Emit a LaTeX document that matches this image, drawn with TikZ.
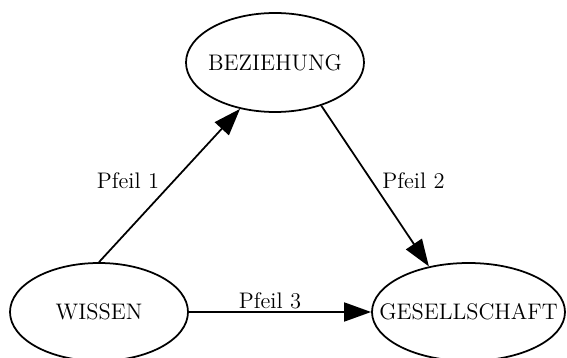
\documentclass[tikz,border=0pt]{standalone}
\usepackage{tikz}
\usetikzlibrary{arrows.meta,shapes.geometric}

\begin{document}
\begin{tikzpicture}[
zustand/.style={ellipse,draw,line width=1pt,inner ysep=0pt,inner xsep=-0.2cm,minimum width=3.56cm,minimum height=1.96cm,font=\fontsize{12.8}{15}\selectfont},
pfeil/.style={line width=1pt,-{Triangle[length=5.4mm,width=3.8mm]}},
beschriftung/.style={font=\fontsize{12.8}{15}\selectfont,inner sep=0pt}
]
\useasboundingbox[fill=white] (0,0) rectangle (11.34,7.16);
\node[zustand,minimum height=1.98cm] (beziehung) at (5.5,5.91) {BEZIEHUNG};
\node[zustand] (wissen) at (1.98,0.92) {WISSEN};
\node[zustand,minimum width=3.86cm,inner xsep=-0.47cm] (gesellschaft) at (9.37,0.92) {GESELLSCHAFT};

\draw[pfeil] (wissen.north) -- (beziehung.233);
\draw[pfeil] (beziehung.317) -- (gesellschaft.131);
\draw[pfeil] (wissen.east) -- (gesellschaft.west);

\node[beschriftung] (pfeileins) at (2.56,3.54) {Pfeil 1};
\node[beschriftung] (pfeilzwei) at (8.27,3.54) {Pfeil 2};
\node[beschriftung] (pfeildrei) at (5.4,1.15) {Pfeil 3};
\end{tikzpicture}
\end{document}
